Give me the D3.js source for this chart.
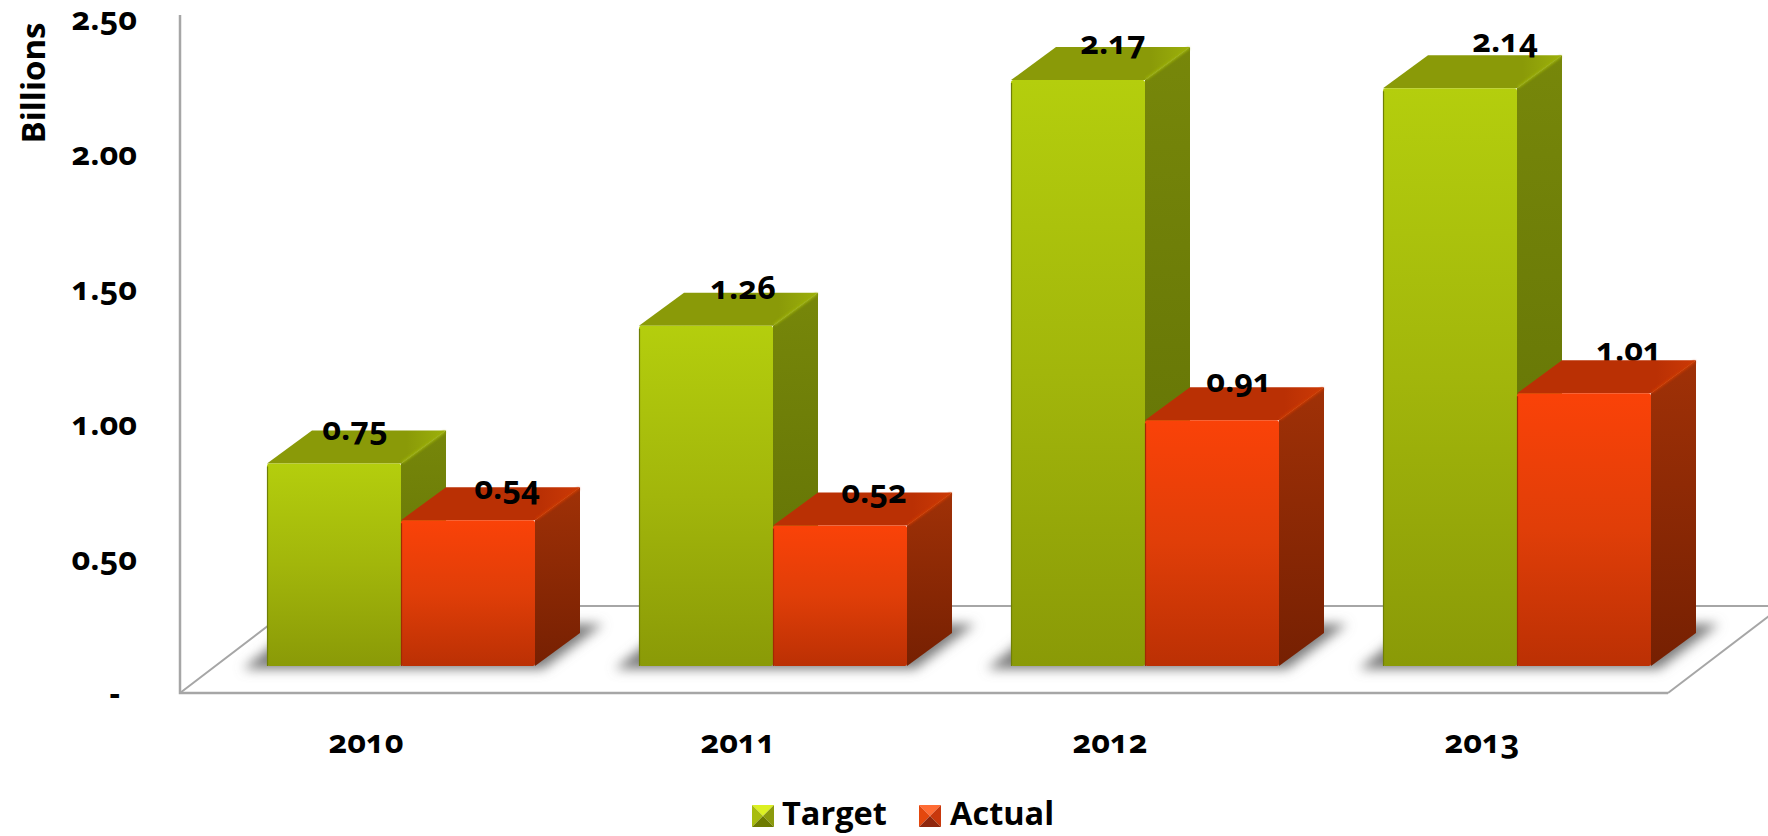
<!DOCTYPE html>
<html>
<head>
<meta charset="utf-8">
<script src="https://cdn.jsdelivr.net/npm/d3@7"></script>
<style>
  html, body { margin: 0; padding: 0; background: #fff; overflow: hidden; }
  svg { display: block; }
  text { font-family: "Open Sans", sans-serif; font-weight: 700; fill: #000; font-feature-settings: "onum" 1; font-variant-numeric: oldstyle-nums; }
</style>
</head>
<body>
<svg id="chart" width="1768" height="836"></svg>
<script>
// Chart values
const categories = ["2010", "2011", "2012", "2013"];
const seriesNames = ["Target", "Actual"];
const targetValues = [0.75, 1.26, 2.17, 2.14];
const actualValues = [0.54, 0.52, 0.91, 1.01];
const tickValues = [0, 0.5, 1, 1.5, 2, 2.5];

// Hand placement of the value labels relative to the back top edge of each bar
const targetLabelShift = [[21, 0], [37, -4], [35, -3], [55, -13]];
const actualLabelShift = [[39, 2], [34, 1], [27, -5], [45, -9]];

const depthX = 45, depthY = 33, floorLift = 27, floorBack = 87;
const palette = {
  Target: { frontTop: "#b4ce0d", frontMid: "#a2b60b", frontBottom: "#8a9a07", sideTop: "#77870a", sideBottom: "#5e6e04",
            top: "#8a9a08", ridge: "#9cb00b", edge: "#6f7f05", glow: "#bcd514",
            swatch: ["#dcf020", "#a8bc0c", "#8b9a08", "#6d7a05"] },
  Actual: { frontTop: "#fa4208", frontMid: "#e03e08", frontBottom: "#bb3004", sideTop: "#a03107", sideBottom: "#762002",
            top: "#ba3004", ridge: "#cc3a06", edge: "#a02a04", glow: "#ff5210",
            swatch: ["#ff6c34", "#e4460e", "#c8380a", "#8e2808"] }
};

const svg = d3.select("#chart");
const y = d3.scaleLinear().domain([0, 2.5]).range([693, 18]);
const x0 = d3.scaleBand().domain(categories).range([180, 1668]);
const x1 = d3.scaleBand().domain(seriesNames).range([0, 268]);
const barX = (cat, name) => x0(cat) + floorBack + x1(name);
const baseY = y(0) - floorLift;

// Gradients and the soft floor shadow
const defs = svg.append("defs");
seriesNames.forEach(name => {
  const c = palette[name];
  const front = defs.append("linearGradient").attr("id", "front" + name).attr("x1", 0).attr("x2", 0).attr("y1", 0).attr("y2", 1);
  front.append("stop").attr("offset", "0").attr("stop-color", c.frontTop);
  front.append("stop").attr("offset", "0.5").attr("stop-color", c.frontMid);
  front.append("stop").attr("offset", "1").attr("stop-color", c.frontBottom);
  const side = defs.append("linearGradient").attr("id", "side" + name).attr("x1", 0).attr("x2", 0).attr("y1", 0).attr("y2", 1);
  side.append("stop").attr("offset", "0").attr("stop-color", c.sideTop);
  side.append("stop").attr("offset", "1").attr("stop-color", c.sideBottom);
  const top = defs.append("linearGradient").attr("id", "top" + name).attr("x1", 0).attr("x2", 1).attr("y1", 0).attr("y2", 0);
  top.append("stop").attr("offset", "0.78").attr("stop-color", c.top);
  top.append("stop").attr("offset", "1").attr("stop-color", c.ridge);
});
defs.append("filter").attr("id", "floorBlur").attr("x", "-20%").attr("y", "-50%").attr("width", "140%").attr("height", "200%")
  .append("feGaussianBlur").attr("stdDeviation", 6);
defs.append("filter").attr("id", "edgeSoft").append("feGaussianBlur").attr("stdDeviation", 0.9);
defs.append("filter").attr("id", "swatchSoft").append("feGaussianBlur").attr("stdDeviation", 0.6);

// Wall and floor outline
const frame = svg.append("g").attr("fill", "none").attr("stroke", "#a6a6a6");
const backY = y(0) - 87;
const backShift = 114;
frame.append("path").attr("stroke-width", 2)
  .attr("d", d3.line()([[x0.range()[0], y(0)], [x0.range()[0] + backShift, backY], [x0.range()[1] + backShift, backY]]));
frame.append("path").attr("stroke-width", 2)
  .attr("d", d3.line()([[x0.range()[1], y(0)], [x0.range()[1] + backShift, backY]]));
frame.append("path").attr("stroke-width", 2.5)
  .attr("d", d3.line()([[x0.range()[0], y(2.5) - 3], [x0.range()[0], y(0)], [x0.range()[1], y(0)]]));

// Floor shadows under each pair of bars
svg.append("g").selectAll("path").data(categories).join("path")
  .attr("fill", "#7c7c7c").attr("filter", "url(#floorBlur)")
  .attr("d", cat => {
    const left = barX(cat, "Target"), right = left + 268;
    return d3.line()([[left - 24, baseY + 3], [right + 8, baseY + 3], [right + 68, baseY - 42], [left + 32, baseY - 42]]) + "Z";
  });

const bars = svg.append("g");

function valueLabel(parent, cat, name, value, shift) {
  const w = x1.bandwidth();
  return parent.append("text")
    .attr("x", barX(cat, name) + w / 2 + shift[0])
    .attr("y", y(value) - floorLift - depthY + shift[1])
    .attr("text-anchor", "middle").attr("dy", "0.3em")
    .attr("font-size", 32.5).text(value.toFixed(2));
}

function drawBar(cat, name, value) {
  const c = palette[name];
  const w = x1.bandwidth();
  const l = barX(cat, name), r = l + w, t = y(value) - floorLift, b = baseY;
  const g = bars.append("g");
  g.append("path").attr("fill", `url(#side${name})`)
    .attr("d", d3.line()([[r, t], [r + depthX, t - depthY], [r + depthX, b - depthY], [r, b]]) + "Z");
  g.append("path").attr("fill", `url(#top${name})`)
    .attr("d", d3.line()([[l, t], [l + depthX, t - depthY], [r + depthX, t - depthY], [r, t]]) + "Z");
  g.append("path").attr("fill", "none").attr("stroke", c.ridge).attr("stroke-width", 2.5).attr("filter", "url(#edgeSoft)")
    .attr("d", d3.line()([[r + 1, t - 1], [r + depthX - 1, t - depthY + 1]]));
  g.append("rect").attr("x", l).attr("y", t).attr("width", w).attr("height", b - t).attr("rx", 2.5)
    .attr("fill", `url(#front${name})`);
  g.append("path").attr("fill", "none").attr("stroke", c.glow).attr("stroke-width", 2.5).attr("filter", "url(#edgeSoft)")
    .attr("d", d3.line()([[l + 2, t + 2], [r - 2, t + 2]]));
  g.append("path").attr("fill", "none").attr("stroke", c.edge).attr("stroke-width", 1.2)
    .attr("d", d3.line()([[l + 0.5, t + 3], [l + 0.5, b]]));
}

// Bars, nearest pair last; the 2013 Actual label sits behind its own bar
categories.forEach((cat, i) => {
  drawBar(cat, "Target", targetValues[i]);
  if (cat === "2013") valueLabel(bars, cat, "Actual", actualValues[i], actualLabelShift[i]);
  drawBar(cat, "Actual", actualValues[i]);
});

const labels = svg.append("g");
categories.forEach((cat, i) => {
  valueLabel(labels, cat, "Target", targetValues[i], targetLabelShift[i]);
  if (cat !== "2013") valueLabel(labels, cat, "Actual", actualValues[i], actualLabelShift[i]);
});

// Axes
const yAxis = svg.append("g").attr("transform", "translate(180,1.5)")
  .call(d3.axisLeft(y).tickValues(tickValues).tickSize(0).tickPadding(43)
    .tickFormat(v => v === 0 ? "-" : d3.format(".2f")(v)));
yAxis.select(".domain").remove();
yAxis.selectAll("text").attr("font-size", 32.5).attr("font-family", null)
  .attr("dx", v => v === 0 ? -17 : 0);

const xAxis = svg.append("g").attr("transform", "translate(0,743)")
  .call(d3.axisBottom(x0).tickSize(0).tickPadding(0));
xAxis.select(".domain").remove();
xAxis.selectAll("text").attr("font-size", 32.5).attr("font-family", null).attr("dy", "0.3em");

svg.append("text").attr("transform", "translate(33,83) rotate(-90)")
  .attr("text-anchor", "middle").attr("dy", "0.35em").attr("font-size", 33).text("Billions");

// Legend with bevelled swatches
const legendX = { Target: 752, Actual: 919 };
const legendTextX = { Target: 782, Actual: 950 };
seriesNames.forEach(name => {
  const sx = legendX[name], sy = 805, s = 22;
  const cx = sx + s / 2, cy = sy + s / 2;
  const tris = [
    [[sx, sy], [sx + s, sy], [cx, cy]],
    [[sx, sy], [sx, sy + s], [cx, cy]],
    [[sx + s, sy], [sx + s, sy + s], [cx, cy]],
    [[sx, sy + s], [sx + s, sy + s], [cx, cy]]
  ];
  svg.append("g").attr("filter", "url(#swatchSoft)").selectAll("path").data(tris).join("path")
    .attr("d", d => d3.line()(d) + "Z")
    .attr("fill", (d, i) => palette[name].swatch[i]);
  svg.append("text").attr("x", legendTextX[name]).attr("y", 825).attr("font-size", 32.5).text(name);
});
</script>
</body>
</html>
